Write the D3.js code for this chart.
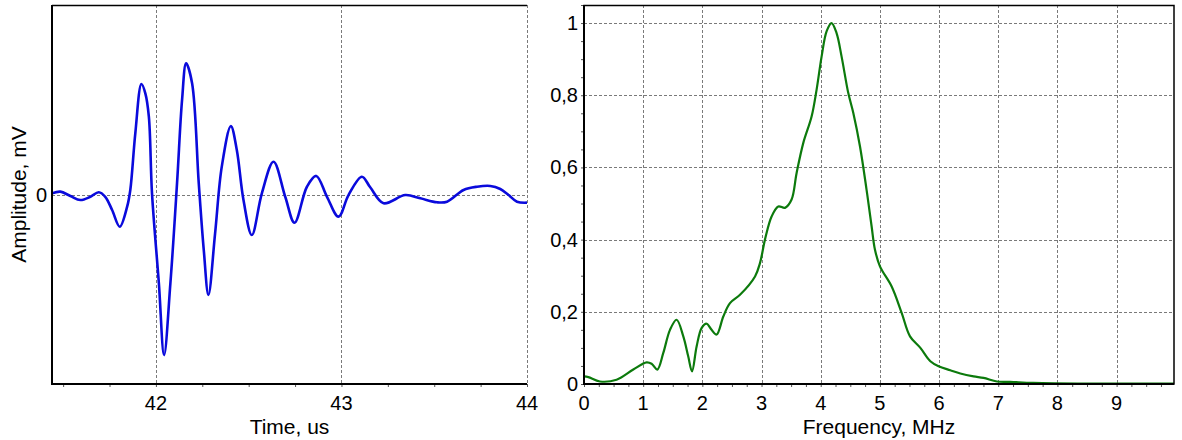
<!DOCTYPE html>
<html><head><meta charset="utf-8">
<script src="https://cdn.jsdelivr.net/npm/d3@7"></script>
<style>
html,body{margin:0;padding:0;background:#fff;}
svg{display:block;}
text{font-family:Arial,"Liberation Sans",sans-serif;fill:#000;}
</style></head>
<body>
<svg id="chart" width="1182" height="440"></svg>
<script>
// ---- Data: time signal (left) ----
const timeUs = [41.440,41.485,41.539,41.593,41.647,41.692,41.727,41.764,41.805,41.845,41.862,41.889,41.922,41.943,41.962,41.979,42.016,42.044,42.078,42.114,42.141,42.163,42.195,42.231,42.258,42.283,42.319,42.355,42.404,42.436,42.472,42.517,42.571,42.634,42.697,42.747,42.814,42.864,42.922,42.984,43.038,43.110,43.155,43.227,43.344,43.425,43.515,43.569,43.658,43.731,43.802,43.856,43.901,43.946,44.000];
const amplitude = [0.006,0.015,-0.008,-0.029,-0.012,0.012,-0.012,-0.082,-0.170,-0.064,0.024,0.323,0.583,0.534,0.411,0.006,-0.469,-0.847,-0.469,0.061,0.499,0.692,0.587,0.059,-0.293,-0.530,-0.205,0.147,0.361,0.235,-0.029,-0.214,0.006,0.173,-0.012,-0.149,0.041,0.098,-0.012,-0.117,-0.003,0.094,0.038,-0.046,-0.003,-0.020,-0.041,-0.038,0.024,0.041,0.045,0.029,-0.003,-0.038,-0.043];
const timeTicks = [42,43,44];
const ampTicks = [0];

// ---- Data: spectrum (right) ----
const freqMHz = [0,0.073,0.270,0.551,0.833,1.058,1.142,1.239,1.340,1.453,1.565,1.678,1.762,1.825,1.903,1.987,2.072,2.156,2.241,2.354,2.467,2.636,2.890,2.974,3.058,3.170,3.283,3.396,3.508,3.592,3.706,3.846,3.930,4.015,4.099,4.184,4.268,4.353,4.466,4.551,4.664,4.775,4.860,4.917,5.001,5.199,5.368,5.509,5.684,5.853,5.992,6.190,6.359,6.583,6.752,6.978,7.201,7.590,8.500,9.970];
const spectrum = [0.021,0.019,0.007,0.012,0.040,0.060,0.056,0.040,0.086,0.150,0.178,0.132,0.076,0.035,0.104,0.155,0.167,0.150,0.137,0.187,0.224,0.247,0.298,0.335,0.400,0.464,0.492,0.488,0.511,0.584,0.668,0.741,0.815,0.907,0.977,1.000,0.972,0.907,0.806,0.751,0.658,0.538,0.437,0.372,0.326,0.270,0.197,0.132,0.100,0.063,0.049,0.038,0.029,0.021,0.017,0.007,0.006,0.003,0.001,0.001];
const freqTicks = [0,1,2,3,4,5,6,7,8,9];
const specTicks = [0,0.2,0.4,0.6,0.8,1];
const specTickLabels = ["0","0,2","0,4","0,6","0,8","1"];

const svg = d3.select("#chart");
const TICKFONT = 20;
const TITLEFONT = 21;

// ---------- Left panel ----------
const L = {x0:52, x1:527, y0:5, y1:384};
const xT = d3.scaleLinear().domain([41.44, 44.0]).range([L.x0, L.x1]);
const yA = d3.scaleLinear().domain([-1, 1]).range([L.y1, L.y0]);

const gL = svg.append("g");
gL.selectAll(".vg").data(timeTicks).join("line")
  .attr("x1", d=>Math.round(xT(d))+0.5).attr("x2", d=>Math.round(xT(d))+0.5)
  .attr("y1", L.y0).attr("y2", L.y1)
  .attr("stroke","#7a7a7a").attr("stroke-dasharray","3,2").attr("stroke-width",1);
gL.selectAll(".hg").data(ampTicks).join("line")
  .attr("x1", L.x0).attr("x2", L.x1)
  .attr("y1", d=>Math.round(yA(d))+0.5).attr("y2", d=>Math.round(yA(d))+0.5)
  .attr("stroke","#7a7a7a").attr("stroke-dasharray","3,2").attr("stroke-width",1);

svg.append("clipPath").attr("id","clipL").append("rect")
  .attr("x",L.x0).attr("y",L.y0).attr("width",L.x1-L.x0).attr("height",L.y1-L.y0);
const lineL = d3.line().x((d,i)=>xT(timeUs[i])).y(d=>yA(d)).curve(d3.curveCatmullRom.alpha(0.5));
gL.append("path").attr("d", lineL(amplitude)).attr("clip-path","url(#clipL)")
  .attr("fill","none").attr("stroke","#0a0adc").attr("stroke-width",2.6).attr("stroke-linejoin","round");

const xAxL = d3.axisBottom(xT).tickValues(d3.range(41.5, 44.01, 0.25)).tickSize(3).tickFormat("");
const gxL = gL.append("g").attr("transform",`translate(0,${L.y1})`).call(xAxL);
gxL.select(".domain").remove();
gxL.selectAll(".tick line").attr("stroke","#555");
gL.selectAll(".xl").data(timeTicks).join("text")
  .attr("x", d=>xT(d)).attr("y", 410).attr("text-anchor","middle").attr("font-size",TICKFONT).text(d=>d);
gL.selectAll(".yl").data(ampTicks).join("text")
  .attr("x", 47).attr("y", d=>yA(d)+7).attr("text-anchor","end").attr("font-size",TICKFONT).text(d=>d);
gL.append("line").attr("x1",L.x0).attr("x2",L.x1).attr("y1",L.y1).attr("y2",L.y1).attr("stroke","#000").attr("stroke-width",2);
gL.append("line").attr("x1",L.x0).attr("x2",L.x0).attr("y1",L.y0).attr("y2",L.y1+1).attr("stroke","#000").attr("stroke-width",2);
gL.append("line").attr("x1",L.x0).attr("x2",L.x1).attr("y1",L.y0+0.5).attr("y2",L.y0+0.5).attr("stroke","#000").attr("stroke-width",1.5);
gL.append("text").attr("x",(L.x0+L.x1)/2).attr("y",434).attr("text-anchor","middle").attr("font-size",TITLEFONT).text("Time, us");
gL.append("text").attr("transform",`translate(26,${(L.y0+L.y1)/2}) rotate(-90)`).attr("text-anchor","middle").attr("font-size",TITLEFONT).text("Amplitude, mV");

// ---------- Right panel ----------
const R = {x0:584, x1:1174, y0:5, y1:384};
const xF = d3.scaleLinear().domain([0, 9.97]).range([R.x0, R.x1]);
const yS = d3.scaleLinear().domain([0, 1.05]).range([R.y1, R.y0]);
const gR = svg.append("g");
gR.selectAll(".vg").data(freqTicks.filter(d=>d>0)).join("line")
  .attr("x1", d=>Math.round(xF(d))+0.5).attr("x2", d=>Math.round(xF(d))+0.5)
  .attr("y1", R.y0).attr("y2", R.y1)
  .attr("stroke","#7a7a7a").attr("stroke-dasharray","3,2").attr("stroke-width",1);
gR.selectAll(".hg").data(specTicks.filter(d=>d>0)).join("line")
  .attr("x1", R.x0).attr("x2", R.x1)
  .attr("y1", d=>Math.round(yS(d))+0.5).attr("y2", d=>Math.round(yS(d))+0.5)
  .attr("stroke","#7a7a7a").attr("stroke-dasharray","3,2").attr("stroke-width",1);

svg.append("clipPath").attr("id","clipR").append("rect")
  .attr("x",R.x0).attr("y",R.y0).attr("width",R.x1-R.x0).attr("height",R.y1-R.y0);
const lineR = d3.line().x((d,i)=>xF(freqMHz[i])).y(d=>yS(d)).curve(d3.curveCatmullRom.alpha(0.5));
gR.append("path").attr("d", lineR(spectrum)).attr("clip-path","url(#clipR)")
  .attr("fill","none").attr("stroke","#0c7a0c").attr("stroke-width",2.2).attr("stroke-linejoin","round");

const xAxR = d3.axisBottom(xF).tickValues(d3.range(0, 9.97, 0.25)).tickSize(3).tickFormat("");
const gxR = gR.append("g").attr("transform",`translate(0,${R.y1})`).call(xAxR);
gxR.select(".domain").remove();
gxR.selectAll(".tick line").attr("stroke","#555");
const yAxR = d3.axisLeft(yS).tickValues(d3.range(0, 1.051, 0.05)).tickSize(3).tickFormat("");
const gyR = gR.append("g").attr("transform",`translate(${R.x0},0)`).call(yAxR);
gyR.select(".domain").remove();
gyR.selectAll(".tick line").attr("stroke","#555");

gR.selectAll(".xl").data(freqTicks).join("text")
  .attr("x", d=>xF(d)).attr("y", 410).attr("text-anchor","middle").attr("font-size",TICKFONT).text(d=>d);
gR.selectAll(".yl").data(specTicks).join("text")
  .attr("x", 578).attr("y", d=>yS(d)+7).attr("text-anchor","end").attr("font-size",TICKFONT).text((d,i)=>specTickLabels[i]);
gR.append("rect").attr("x",R.x0).attr("y",R.y0+0.5).attr("width",R.x1-R.x0).attr("height",R.y1-R.y0-0.5)
  .attr("fill","none").attr("stroke","#000").attr("stroke-width",1.5);
gR.append("line").attr("x1",R.x0).attr("x2",R.x1).attr("y1",R.y1).attr("y2",R.y1).attr("stroke","#000").attr("stroke-width",2);
gR.append("line").attr("x1",R.x0).attr("x2",R.x0).attr("y1",R.y0).attr("y2",R.y1+1).attr("stroke","#000").attr("stroke-width",2);
gR.append("text").attr("x",(R.x0+R.x1)/2).attr("y",434).attr("text-anchor","middle").attr("font-size",TITLEFONT).text("Frequency, MHz");
</script>
</body></html>
